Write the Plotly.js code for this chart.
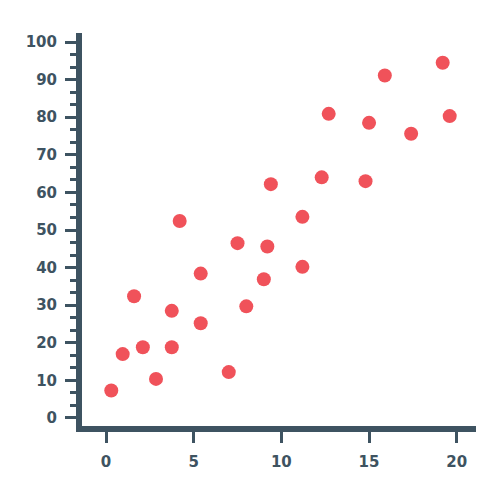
<!DOCTYPE html>
<html>
<head>
<meta charset="utf-8">
<script src="https://cdn.plot.ly/plotly-3.0.1.min.js"></script>
<style>html,body{margin:0;padding:0;background:#fff;}#chart{width:500px;height:500px;}</style>
</head>
<body>
<div id="chart"></div>
<script>
const xValues = [19.2, 15.9, 12.7, 19.6, 15.0, 17.4, 9.4, 12.3, 14.8, 4.2, 11.2, 7.5, 9.2, 11.2, 5.4, 9.0, 1.6, 3.75, 8.0, 5.4, 0.95, 2.1, 3.75, 2.85, 7.0, 0.3];
const yValues = [94.5, 91.1, 80.9, 80.3, 78.5, 75.6, 62.2, 64.0, 63.0, 52.4, 53.5, 46.5, 45.6, 40.2, 38.4, 36.9, 32.4, 28.5, 29.7, 25.2, 17.0, 18.8, 18.8, 10.4, 12.2, 7.3];
const xTickVals = [0, 5, 10, 15, 20];
const yTickVals = [0, 10, 20, 30, 40, 50, 60, 70, 80, 90, 100];

const axisColor = '#3e5361';
const dotColor = '#f0525a';

const data = [{
  type: 'scatter',
  mode: 'markers',
  x: xValues,
  y: yValues,
  marker: {size: 14, color: dotColor},
  hoverinfo: 'x+y'
}];

const layout = {
  width: 500, height: 500,
  margin: {l: 82, r: 24, t: 33, b: 74},
  paper_bgcolor: '#ffffff',
  plot_bgcolor: '#ffffff',
  showlegend: false,
  font: {family: 'DejaVu Sans, sans-serif', color: axisColor},
  xaxis: {
    range: [-1.37, 21.1],
    tickvals: xTickVals,
    ticktext: xTickVals.map(String),
    showgrid: false, zeroline: false,
    showline: true, linecolor: axisColor, linewidth: 6,
    ticks: 'outside', ticklen: 11, tickwidth: 3, tickcolor: axisColor,
    tickfont: {size: 15, color: axisColor, weight: 'bold'},
    ticklabelstandoff: 6
  },
  yaxis: {
    range: [-2.13, 102.4],
    tickvals: yTickVals,
    ticktext: yTickVals.map(String),
    showgrid: false, zeroline: false,
    showline: true, linecolor: axisColor, linewidth: 6,
    ticks: 'outside', ticklen: 11, tickwidth: 3, tickcolor: axisColor,
    tickfont: {size: 15, color: axisColor, weight: 'bold'},
    ticklabelstandoff: 5,
    minor: {tick0: 0, dtick: 10/3, ticks: 'outside', ticklen: 6, tickwidth: 3, tickcolor: axisColor, showgrid: false}
  }
};

Plotly.newPlot('chart', data, layout, {displayModeBar: false, staticPlot: true});
</script>
</body>
</html>
